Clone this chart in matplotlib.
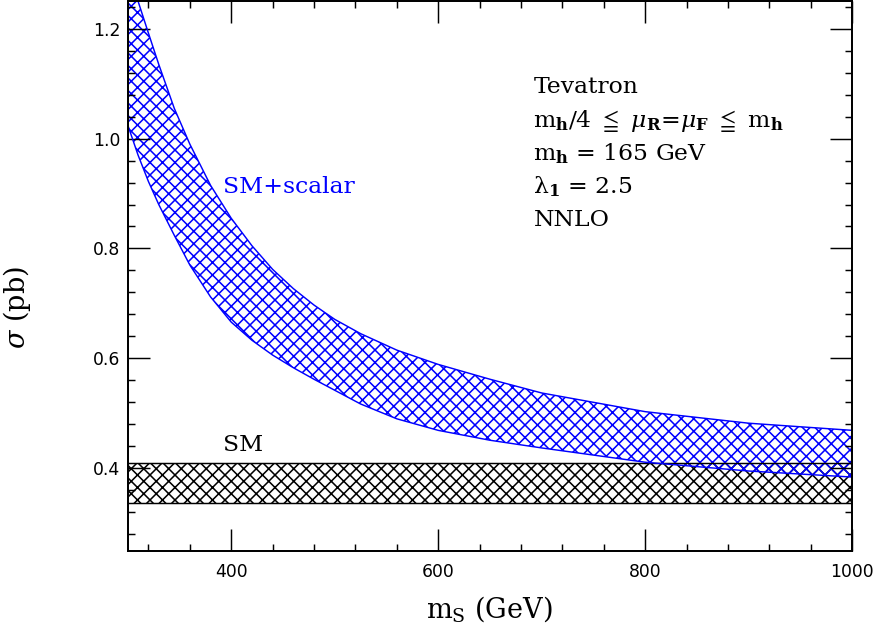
import numpy as np
import matplotlib.pyplot as plt

plt.rcParams['mathtext.fontset'] = 'dejavuserif'
plt.rcParams['hatch.linewidth'] = 1.5

# SM+scalar band (NNLO, scale variation)
ms = [300, 310, 320, 330, 345, 360, 380, 400, 420, 440, 460, 480, 500, 525, 560,
      600, 650, 700, 800, 900, 1000]
sig_hi = [1.32, 1.25, 1.192, 1.135, 1.055, 0.99, 0.915, 0.855, 0.805, 0.762, 0.727,
          0.697, 0.671, 0.645, 0.615, 0.589, 0.562, 0.537, 0.503, 0.482, 0.469]
sig_lo = [1.025, 0.97, 0.922, 0.88, 0.824, 0.77, 0.712, 0.666, 0.633, 0.606, 0.583,
          0.562, 0.542, 0.517, 0.490, 0.469, 0.451, 0.437, 0.411, 0.395, 0.384]

# SM band (independent of m_S)
sm_x = [300, 1000]
sm_lo = [0.336, 0.336]
sm_hi = [0.41, 0.41]

info = ["Tevatron",
        r"m$_\mathbf{h}$/4 $\leqq$ $\mu_\mathbf{R}$=$\mu_\mathbf{F}$ $\leqq$ m$_\mathbf{h}$",
        r"m$_\mathbf{h}$ = 165 GeV",
        r"λ$_\mathbf{1}$ = 2.5",
        "NNLO"]

dpi = 75
fig = plt.figure(figsize=(877 / dpi, 623 / dpi), dpi=dpi)
ax = fig.add_axes([127.7 / 877, 1 - 550.7 / 623, 724.6 / 877, 549.5 / 623])

ax.fill_between(sm_x, sm_lo, sm_hi, facecolor='none', edgecolor='black', hatch='xx', linewidth=0)
ax.plot(sm_x, sm_lo, color='black', lw=1.4)
ax.plot(sm_x, sm_hi, color='black', lw=1.4)

ax.fill_between(ms, sig_lo, sig_hi, facecolor='none', edgecolor='blue', hatch='xx', linewidth=0)
ax.plot(ms, sig_hi, color='blue', lw=1.4)
ax.plot(ms, sig_lo, color='blue', lw=1.4)

ax.set_xlim(300, 1000)
ax.set_ylim(0.25, 1.25)
ax.set_xticks([400, 600, 800, 1000])
ax.set_xticks(np.arange(320, 1000, 40), minor=True)
ax.set_yticks([0.4, 0.6, 0.8, 1.0, 1.2])
ax.set_yticks(np.arange(0.28, 1.25, 0.04), minor=True)
ax.set_yticklabels(['0.4', '0.6', '0.8', '1.0', '1.2'])

ax.tick_params(which='both', direction='in', top=True, right=True, width=1.4, colors='black')
ax.tick_params(which='major', length=21, labelsize=16.5)
ax.tick_params(which='minor', length=6.7)
ax.tick_params(axis='x', which='major', pad=12)
ax.tick_params(axis='y', which='major', pad=7)
for sp in ax.spines.values():
    sp.set_linewidth(1.9)

serif = 'DejaVu Serif'
ty = [1.0822, 1.0218, 0.9609, 0.9009, 0.8409]
for s, y in zip(info, ty):
    ax.text(692, y, s, fontsize=22.5, family=serif, ha='left', va='baseline')

ax.text(392.4, 0.9015, "SM+scalar", color='blue', fontsize=22.5, family=serif, ha='left', va='baseline')
ax.text(391.8, 0.4318, "SM", color='black', fontsize=22.5, family=serif, ha='left', va='baseline')

fig.text(489 / 877, 1 - 617 / 623, r"m$_\mathrm{S}$ (GeV)", fontsize=26, family=serif,
         ha='center', va='baseline')
fig.text(17 / 877, 1 - 308 / 623, r"$\sigma$ (pb)", fontsize=26, family=serif,
         ha='center', va='center', rotation=90)

fig.savefig('out.png', dpi=dpi)
